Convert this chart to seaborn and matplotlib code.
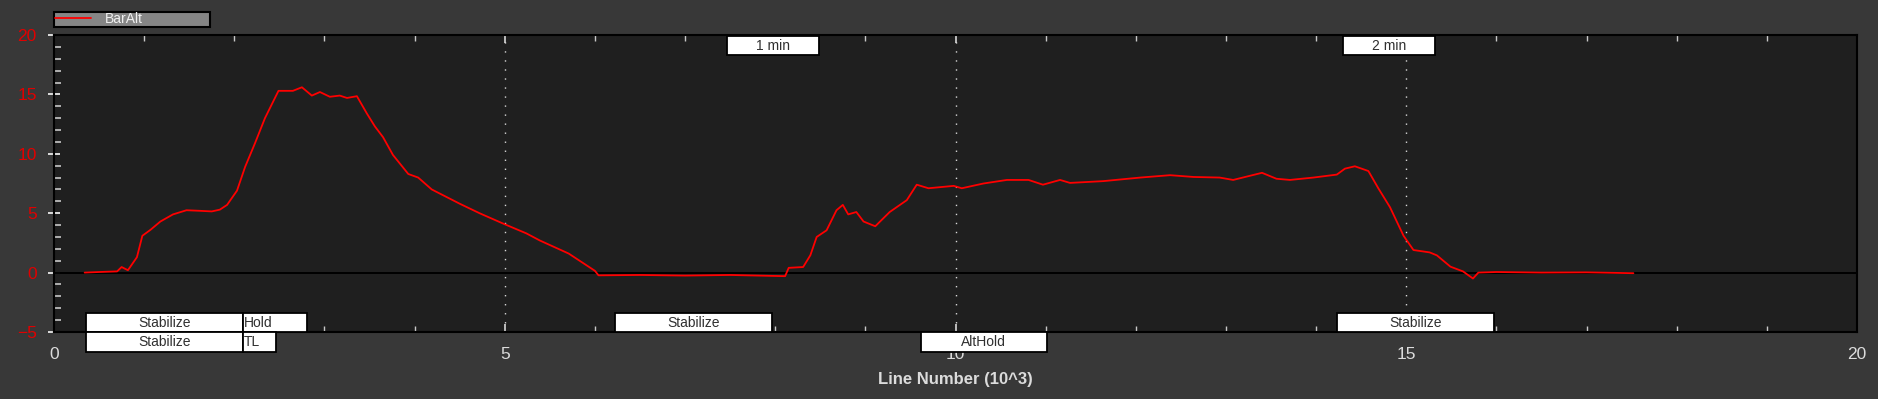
import matplotlib
matplotlib.use("Agg")
import pandas as pd
import matplotlib.pyplot as plt
import seaborn as sns
from matplotlib.patches import Rectangle
from matplotlib.ticker import MultipleLocator

# BarAlt trace (x in thousands of log lines)
line_k = [0.34, 0.50, 0.70, 0.75, 0.82, 0.92, 0.98, 1.07, 1.18, 1.32,
          1.47, 1.62, 1.75, 1.84, 1.92, 2.03, 2.12, 2.23, 2.34, 2.49,
          2.65, 2.75, 2.86, 2.95, 3.06, 3.17, 3.25, 3.36, 3.47, 3.56,
          3.65, 3.76, 3.93, 4.04, 4.19, 4.50, 4.72, 4.99, 5.24, 5.39,
          5.71, 6.00, 6.04, 6.50, 7.00, 7.50, 8.11, 8.15, 8.31, 8.39,
          8.46, 8.57, 8.68, 8.75, 8.81, 8.90, 8.98, 9.11, 9.27, 9.46,
          9.57, 9.70, 9.98, 10.07, 10.31, 10.57, 10.81, 10.97, 11.16, 11.27,
          11.64, 12.05, 12.38, 12.64, 12.93, 13.08, 13.40, 13.56, 13.71, 13.97,
          14.23, 14.32, 14.43, 14.58, 14.69, 14.82, 14.97, 15.08, 15.26, 15.34,
          15.49, 15.63, 15.74, 15.80, 16.00, 16.50, 17.00, 17.52]
bar_alt = [0.0, 0.05, 0.1, 0.47, 0.2, 1.3, 3.1, 3.6, 4.3, 4.9,
           5.25, 5.2, 5.15, 5.3, 5.7, 6.9, 8.9, 10.9, 13.0, 15.3,
           15.3, 15.6, 14.9, 15.2, 14.8, 14.9, 14.7, 14.85, 13.4, 12.3,
           11.4, 9.9, 8.3, 8.0, 7.0, 5.8, 5.0, 4.1, 3.3, 2.7,
           1.6, 0.15, -0.23, -0.2, -0.25, -0.2, -0.3, 0.4, 0.47, 1.46,
           3.0, 3.56, 5.25, 5.7, 4.9, 5.1, 4.3, 3.9, 5.1, 6.1,
           7.4, 7.1, 7.3, 7.1, 7.5, 7.8, 7.8, 7.4, 7.8, 7.55,
           7.7, 8.0, 8.2, 8.05, 8.0, 7.8, 8.4, 7.9, 7.8, 8.0,
           8.25, 8.75, 8.95, 8.55, 7.1, 5.5, 3.1, 1.9, 1.7, 1.45,
           0.5, 0.1, -0.5, 0.0, 0.05, 0.0, 0.02, -0.05]

# flight mode labels along the bottom
mode_names = ["Stabilize", "Hold", "Stabilize", "TL", "Stabilize", "AltHold", "Stabilize"]
mode_start = [0.355, 2.10, 0.355, 2.10, 6.22, 9.62, 14.23]
mode_end = [2.10, 2.81, 2.10, 2.46, 7.96, 11.01, 15.97]
mode_row = [0, 0, 1, 1, 0, 1, 0]

# time markers along the top
time_labels = ["1 min", "2 min"]
time_start = [7.46, 14.30]
time_end = [8.49, 15.32]

df = pd.DataFrame({"line": line_k, "BarAlt": bar_alt})

sns.set_style("dark")
plt.rcParams["font.family"] = ["Liberation Sans", "DejaVu Sans"]

fig = plt.figure(figsize=(18.78, 3.99), dpi=100, facecolor="#383838")
ax = fig.add_axes([54 / 1878, 1 - 332 / 399, 1803 / 1878, 297 / 399])
ax.set_facecolor("#1f1f1f")

sns.lineplot(data=df, x="line", y="BarAlt", ax=ax, color="#ff0000",
             linewidth=1.3, label="BarAlt", estimator=None, sort=False, zorder=3)

ax.set_xlim(0, 20)
ax.set_ylim(-5, 20)

# zero line and dotted vertical grid
ax.axhline(0, color="black", linewidth=1.4, zorder=2)
for gx in [5, 10, 15]:
    ax.axvline(gx, color="#d8d8d8", linewidth=1.0, linestyle=(0, (1, 5.5)), zorder=1)
ax.grid(False)

for s in ax.spines.values():
    s.set_color("black")
    s.set_linewidth(1.5)
    s.set_visible(True)

ax.xaxis.set_major_locator(MultipleLocator(5))
ax.xaxis.set_minor_locator(MultipleLocator(1))
ax.yaxis.set_major_locator(MultipleLocator(5))
ax.yaxis.set_minor_locator(MultipleLocator(1))

ax.tick_params(axis="y", which="major", direction="inout", length=9, width=1.3,
               colors="#e8e8e8", labelcolor="#e00000", labelsize=12.5, pad=8,
               left=True)
ax.tick_params(axis="y", which="minor", direction="in", length=5, width=1.2,
               color="#c8c8c8", left=True)
ax.tick_params(axis="x", which="major", direction="in", length=6, width=1.2,
               colors="#d8d8d8", labelcolor="#dcdcdc", labelsize=12.5, pad=11,
               bottom=True, top=True)
ax.tick_params(axis="x", which="minor", direction="in", length=4, width=1.0,
               color="#c8c8c8", bottom=True, top=True)

ax.set_xlabel("Line Number (10^3)", color="#dcdcdc", fontweight="bold",
              fontsize=12, labelpad=7)
ax.set_ylabel("")

# mode boxes
row_y = {0: (-5.0, 1.57), 1: (-6.68, 1.68)}
for name, x0, x1, r in zip(mode_names, mode_start, mode_end, mode_row):
    y0, h = row_y[r]
    ax.add_patch(Rectangle((x0, y0), x1 - x0, h, facecolor="white",
                           edgecolor="black", linewidth=1.3, clip_on=False, zorder=5))
    if x1 - x0 < 1.0:
        ax.text(x0 + 0.01, y0 + h / 2, name, ha="left", va="center", fontsize=10,
                color="#303030", clip_on=False, zorder=6)
    else:
        ax.text((x0 + x1) / 2, y0 + h / 2, name, ha="center", va="center",
                fontsize=10, color="#303030", clip_on=False, zorder=6)

# time marker boxes
for name, x0, x1 in zip(time_labels, time_start, time_end):
    ax.add_patch(Rectangle((x0, 18.3), x1 - x0, 1.6, facecolor="white",
                           edgecolor="black", linewidth=1.3, zorder=5))
    ax.text((x0 + x1) / 2, 19.1, name, ha="center", va="center", fontsize=10,
            color="#303030", zorder=6)

leg = ax.legend(loc="lower left", bbox_to_anchor=(54 / 1878, 1 - 27 / 399, 156 / 1878, 16 / 399),
                bbox_transform=fig.transFigure, mode="expand", fontsize=10,
                frameon=True, fancybox=False, framealpha=1, borderpad=0.05,
                handlelength=2.6, handletextpad=1.0, borderaxespad=0)
leg.get_frame().set_facecolor("#858585")
leg.get_frame().set_edgecolor("black")
leg.get_frame().set_linewidth(1.5)
for t in leg.get_texts():
    t.set_color("#f0f0f0")

fig.savefig("out.png", dpi=100, facecolor=fig.get_facecolor())
